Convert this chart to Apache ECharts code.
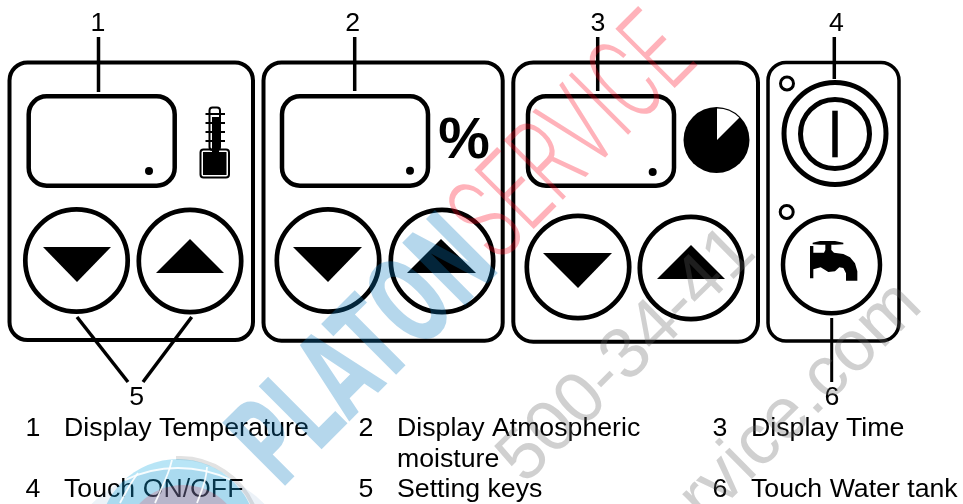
<!DOCTYPE html>
<html><head><meta charset="utf-8">
<style>html,body{margin:0;padding:0;background:#fff}#c{width:963px;height:504px}</style>
<script src="https://cdn.jsdelivr.net/npm/echarts@6/dist/echarts.min.js"></script>
</head><body><div id="c"></div>
<script>
const calloutLabels = ['1','2','3','4','5','6'];
const legendNumbers = ['1','2','3','4','5','6'];
const legendLabels = ['Display Temperature','Display Atmospheric','Display Time','Touch ON/OFF','Setting keys','Touch Water tank'];
const legendContinuation = 'moisture';
const unitLabel = '%';
const watermarkTexts = ['PLATON','SERVICE','500-34-41','service.com'];

const FONT = '"Liberation Sans", Arial, sans-serif';
const FS = 26.7;
const els = [];
const K = '#000';
const rrect = (x0,y0,x1,y1,r,lw)=>els.push({type:'rect',z:10,shape:{x:x0,y:y0,width:x1-x0,height:y1-y0,r},style:{fill:'none',stroke:K,lineWidth:lw}});
const ring = (cx,cy,r,lw)=>els.push({type:'circle',z:10,shape:{cx,cy,r},style:{fill:'none',stroke:K,lineWidth:lw}});
const dot = (cx,cy,r)=>els.push({type:'circle',z:10,shape:{cx,cy,r},style:{fill:K}});
const seg = (x1,y1,x2,y2,lw)=>els.push({type:'line',z:10,shape:{x1,y1,x2,y2},style:{stroke:K,lineWidth:lw}});
const poly = (points,fill)=>els.push({type:'polygon',z:10,shape:{points},style:{fill:fill||K}});
const txt = (text,x,y,fs,opt)=>els.push({type:'text',z:10,x,y,style:{text,fill:K,font:(opt&&opt.weight||'normal')+' '+fs+'px '+FONT,textAlign:opt&&opt.align||'left',textVerticalAlign:'middle'}});

// panels
rrect(9.5,62.5,253,340,18,4);
rrect(263.5,62.5,502.7,340.7,18,4);
rrect(513.3,62.5,758,341.7,20,4);
rrect(768,62.5,899,341,18,3.5);
// displays
rrect(28.7,96.3,174.7,185.7,18,4.5);
rrect(282,96.3,428,185.7,18,4.5);
rrect(528,96.3,674,185.7,18,4.5);
dot(149,171,4); dot(410,170.7,4); dot(652.7,172,4);
// key rings + triangles
[[76.5,260.5],[190,261],[328,260.5],[442,261],[578,267],[691,268]].forEach(c=>ring(c[0],c[1],51.2,4.7));
poly([[43,247],[111,247],[77,282]]); poly([[156,273],[224,273],[190,239]]);
poly([[293,247],[362,247],[328,282]]); poly([[407,273],[476,273],[441,239]]);
poly([[543,253],[612,253],[578,288]]); poly([[657,279],[725,279],[691,245]]);
// leaders
seg(98.5,37,98.5,92,3.5); seg(354.7,37,354.7,91,3.5); seg(597.7,37,597.7,91,3.5); seg(834.3,37,834.3,79,3.5);
seg(77,317,128,382,3.5); seg(191.7,317,143,382,3.5); seg(831.7,318,831.7,382,3);
// thermometer
rrect(209.5,107.5,220,150,3,2);
rrect(200.5,149.5,229,177.5,3,2);
els.push({type:'rect',z:10,shape:{x:203,y:152,width:23.5,height:23},style:{fill:K}});
els.push({type:'rect',z:10,shape:{x:212,y:117,width:7,height:36},style:{fill:K}});
[114,123,132,141].forEach(y=>seg(205.5,y,225,y,2));
// timer pie
dot(716.5,140,33);
els.push({type:'sector',z:11,shape:{cx:717,cy:140,r0:0,r:31.5,startAngle:-Math.PI/2,endAngle:-Math.PI/4,clockwise:true},style:{fill:'#fff'}});
// power + tank
ring(787,83.5,6.5,3); ring(786.7,212,6.5,3);
ring(835,133.5,51,5); ring(835,134,34.5,5); seg(835,110.7,835,157.3,5.5);
ring(831.5,264.7,48.5,4.5);
// tap
const tx=800,ty=230,t=p=>p.map(q=>[tx+q[0]/3,ty+q[1]/3]);
poly(t([[30,48],[40,48],[40,68],[72,68],[76,60],[76,42],[94,42],[94,60],[102,68],[130,72],[150,82],[165,100],[172,124],[172,152],[138,152],[138,130],[130,114],[118,112],[105,124],[85,126],[62,112],[40,118],[40,145],[30,145]]));
poly(t([[38,38],[60,33],[105,33],[130,38],[130,43],[105,44],[60,44],[38,43]]));
// callout numbers
const callPos=[[98,24],[352.7,24],[598,24],[836.5,24],[136.7,398],[832,398]];
calloutLabels.forEach((s,i)=>txt(s,callPos[i][0],callPos[i][1],FS,{align:'center'}));
// legend
const rowY=[429,490], numX=[33,366,720], txtX=[64,397,751];
legendNumbers.forEach((s,i)=>{const c=i%3,r=Math.floor(i/3);
 txt(s,numX[c],rowY[r],FS,{align:'center'});
 txt(legendLabels[i],txtX[c],rowY[r],FS);});
txt(legendContinuation,397,460,FS);
txt(unitLabel,464,142,58,{weight:'bold',align:'center'});

// globe
const gz=30;
els.push({type:'arc',z:4,shape:{cx:180,cy:538,r:80,startAngle:-1.62,endAngle:-.35,clockwise:true},style:{fill:'none',stroke:'#e2e2e2',lineWidth:4}});
els.push({type:'circle',z:gz,shape:{cx:178,cy:538,r:79},style:{fill:'rgb(20,170,225)',opacity:.3}});
els.push({type:'circle',z:gz,shape:{cx:178,cy:590,r:122},style:{fill:'rgb(10,90,170)',opacity:.08}});
els.push({type:'circle',z:gz,shape:{cx:183,cy:545,r:60},style:{fill:'rgb(240,40,60)',opacity:.2}});
const white={stroke:'#fff',lineWidth:1.8,fill:'none',opacity:.9};
els.push({type:'arc',z:gz,shape:{cx:178,cy:590,r:122,startAngle:-2.02,endAngle:-1.13,clockwise:true},style:white});
els.push({type:'polyline',z:gz,shape:{points:[[172,460],[168,473],[155,503]],smooth:.4},style:white});
els.push({type:'polyline',z:gz,shape:{points:[[207,467],[205,480],[197,503]],smooth:.4},style:white});
els.push({type:'polyline',z:gz,shape:{points:[[138,473],[130,485],[120,503]],smooth:.4},style:white});

// watermarks
const wm=(text,x,y,fs,rot,sx,fill,op,weight,font)=>els.push({type:'text',z:20,x,y,rotation:rot,scaleX:sx,style:{text,fill,opacity:op,font:(weight||'normal')+' '+fs+'px '+(font||FONT),textAlign:'center',textVerticalAlign:'middle'}});
wm(watermarkTexts[0],369,357,122,Math.PI/4,.58,'rgb(10,123,193)',.3,'bold','"DejaVu Sans"');
wm(watermarkTexts[1],578,143,118,.785,.62,'rgb(255,0,25)',.3,'300','Roboto, "Liberation Sans"');
wm(watermarkTexts[2],627.5,356,72,.78,1,'rgb(100,100,100)',.3);
wm(watermarkTexts[3],774,429,72,.78,1,'rgb(100,100,100)',.3);

const chart=echarts.init(document.getElementById('c'),null,{renderer:'canvas'});
chart.setOption({animation:false,backgroundColor:'#fff',graphic:{elements:els}});
</script></body></html>
